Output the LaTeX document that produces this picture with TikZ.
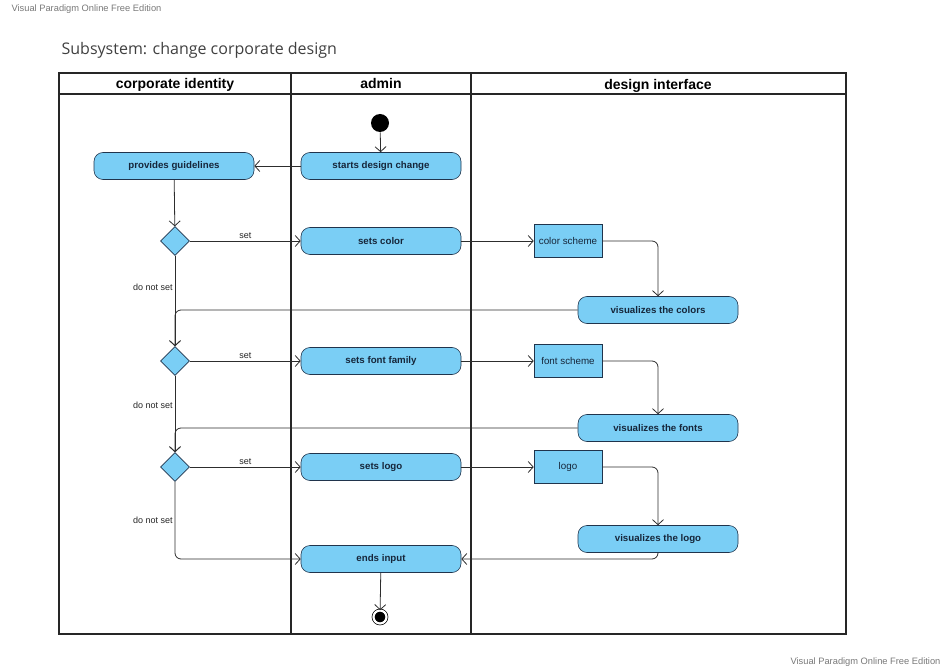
\documentclass[tikz,border=0pt]{standalone}
\usepackage{fontspec}
\setmainfont{Liberation Sans}
\newfontfamily\titlefont{Open Sans}
\usetikzlibrary{shapes.geometric,arrows.meta,positioning}
\definecolor{actfill}{RGB}{122,206,245}
\definecolor{actdraw}{RGB}{32,52,76}
\definecolor{acttext}{RGB}{22,38,58}
\definecolor{linegray}{RGB}{45,45,45}
\definecolor{markgray}{RGB}{120,120,120}

\begin{document}
\begin{tikzpicture}[x=1pt, y=-1pt, >={Straight Barb[length=5pt,width=11pt]}, semithick]
	\tikzset{
		action/.style={draw=actdraw, fill=actfill, text=acttext, rounded corners=9pt,
			minimum width=160pt, minimum height=27pt, inner sep=0pt,
			font=\bfseries\fontsize{9.7}{11}\selectfont},
		objbox/.style={draw=actdraw, fill=actfill, text=acttext, minimum width=68pt,
			minimum height=33pt, inner sep=0pt, font=\fontsize{9.8}{11}\selectfont},
		decision/.style={diamond, draw=actdraw, fill=actfill, minimum width=29pt,
			minimum height=29pt, inner sep=0pt},
		flow/.style={->, draw=linegray, line width=0.8pt},
		guard/.style={font=\fontsize{9}{10}\selectfont, text=black!85, inner sep=2pt},
		lanehead/.style={anchor=base, font=\bfseries\fontsize{14}{16}\selectfont, text=black}
	}
	\useasboundingbox (0,0) rectangle (948,671);

	% watermarks and title
	\node[anchor=west, text=markgray, font=\fontsize{9.3}{10}\selectfont] (markA) at (8,9) {Visual Paradigm Online Free Edition};
	\node[anchor=east, text=markgray, font=\fontsize{9.3}{10}\selectfont] (markB) at (944,662) {Visual Paradigm Online Free Edition};
	\node[anchor=west, text=black!75, font=\titlefont\fontsize{16}{19}\selectfont] (title) at (58,50) {Subsystem: change corporate design};

	% swimlanes
	\draw[line width=1.6pt, black!85] (59,73) rectangle (846,634);
	\draw[line width=1.6pt, black!85] (59,94) -- (846,94);
	\draw[line width=1.6pt, black!85] (291,73) -- (291,634);
	\draw[line width=1.6pt, black!85] (471,73) -- (471,634);
	\node[lanehead] (laneA) at (175,89) {corporate identity};
	\node[lanehead] (laneB) at (381,89) {admin};
	\node[lanehead] (laneC) at (658,90) {design interface};

	% nodes
	\node[circle, fill=black, minimum size=18pt, inner sep=0pt] (start) at (380,123) {};
	\node[action] (starts) at (381,166) {starts design change};
	\node[action] (guide) at (174,166) {provides guidelines};
	\node[decision] (dec1) at (175,241) {};
	\node[action] (setcolor) at (381,241) {sets color};
	\node[objbox] (colorscheme) at (568,241) {color scheme};
	\node[action] (viscolor) at (658,310) {visualizes the colors};
	\node[decision] (dec2) at (175,361) {};
	\node[action] (setfont) at (381,361) {sets font family};
	\node[objbox] (fontscheme) at (568,361) {font scheme};
	\node[action] (visfont) at (658,428) {visualizes the fonts};
	\node[decision] (dec3) at (175,467) {};
	\node[action] (setlogo) at (381,467) {sets logo};
	\node[objbox] (logo) at (568,467) {logo};
	\node[action] (vislogo) at (658,539) {visualizes the logo};
	\node[action] (ends) at (381,559) {ends input};
	\node[circle, draw=black, fill=black, line width=0.7pt, double=white, double distance=2.2pt,
		minimum size=13pt, inner sep=0pt] (stop) at (380,617) {};

	% connectors
	\draw[flow] (start) -- (starts);
	\draw[flow] (starts) -- (guide);
	\draw[flow] (guide) -- (dec1);
	\draw[flow] (dec1) -- node[guard, above] {set} (setcolor);
	\draw[flow] (setcolor) -- (colorscheme);
	\draw[flow, rounded corners=6pt] (colorscheme.east) -| (viscolor.north);
	\draw[flow] (dec1.south) -- node[guard, left, pos=0.35] {do not set} (dec2.north);
	\draw[flow, rounded corners=6pt] (viscolor.west) -| (dec2.north);
	\draw[flow] (dec2) -- node[guard, above] {set} (setfont);
	\draw[flow] (setfont) -- (fontscheme);
	\draw[flow, rounded corners=6pt] (fontscheme.east) -| (visfont.north);
	\draw[flow] (dec2.south) -- node[guard, left, pos=0.38] {do not set} (dec3.north);
	\draw[flow, rounded corners=6pt] (visfont.west) -| (dec3.north);
	\draw[flow] (dec3) -- node[guard, above] {set} (setlogo);
	\draw[flow] (setlogo) -- (logo);
	\draw[flow, rounded corners=6pt] (logo.east) -| (vislogo.north);
	\draw[flow, rounded corners=6pt] (dec3.south) |- node[guard, left, pos=0.25] {do not set} (ends.west);
	\draw[flow, rounded corners=6pt] (vislogo.south) |- (ends.east);
	\draw[flow] (ends) -- (stop);
\end{tikzpicture}
\end{document}
